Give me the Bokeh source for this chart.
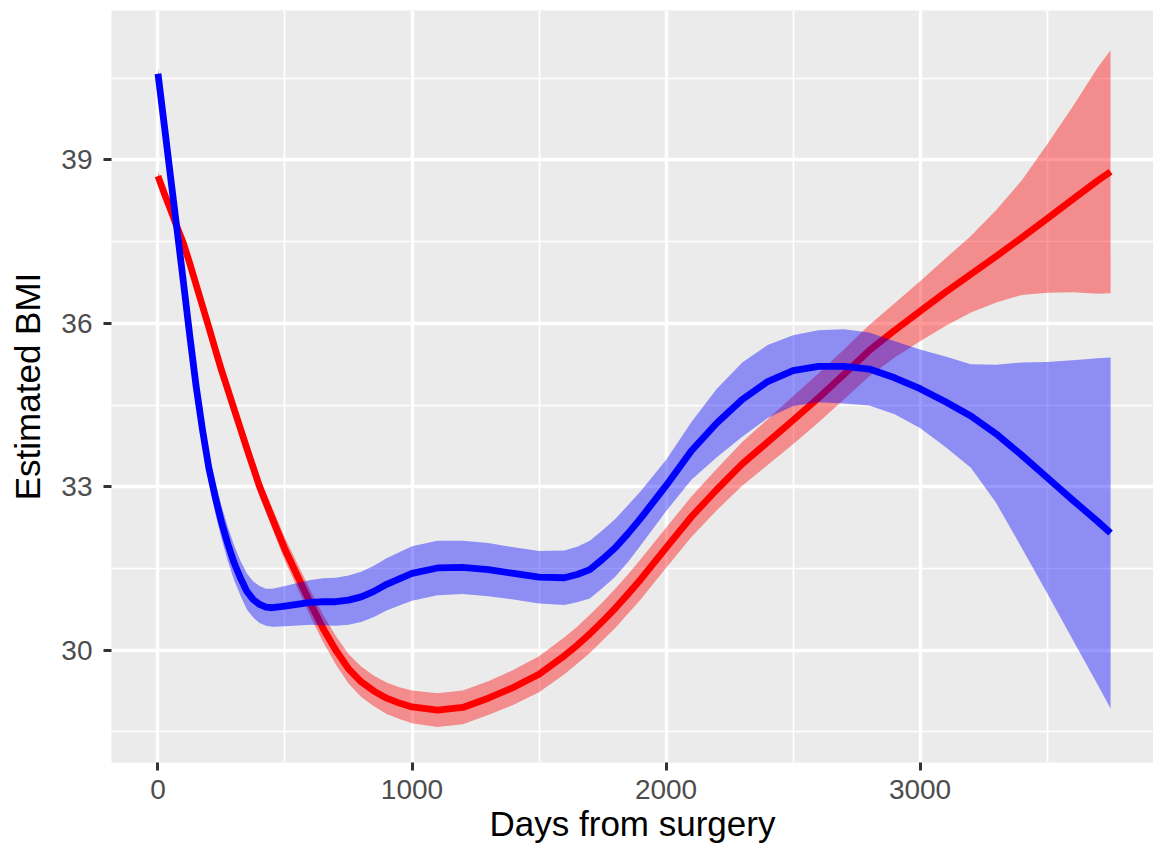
import numpy as np
from bokeh.plotting import figure
from bokeh.models import Range1d, FixedTicker, ColumnDataSource
from bokeh.embed import file_html
from bokeh.resources import INLINE

# Smoothed BMI trajectories after surgery (fit and standard error per group)
days = [0, 25, 50, 75, 100, 125, 150, 175, 200, 225, 250, 275, 300, 325, 350,
        375, 400, 425, 450, 500, 600, 650, 700, 750, 800, 850, 900, 950, 1000,
        1100, 1200, 1300, 1400, 1500, 1600, 1650, 1700, 1750, 1800, 1850, 1900,
        2000, 2100, 2200, 2300, 2400, 2500, 2600, 2700, 2800, 2900, 3000, 3100,
        3200, 3300, 3400, 3500, 3600, 3700, 3750]

red_fit = [38.70, 38.38, 38.08, 37.77, 37.47, 37.10, 36.71, 36.32, 35.93, 35.53,
           35.14, 34.78, 34.42, 34.06, 33.70, 33.35, 33.00, 32.71, 32.42, 31.85,
           30.86, 30.40, 30.00, 29.66, 29.42, 29.25, 29.12, 29.03, 28.96,
           28.90, 28.95, 29.12, 29.32, 29.56, 29.90, 30.09, 30.30, 30.53, 30.77,
           31.03, 31.30, 31.88, 32.45, 32.95, 33.42, 33.82, 34.22, 34.63, 35.06,
           35.50, 35.87, 36.22, 36.57, 36.90, 37.23, 37.57, 37.92, 38.27, 38.62,
           38.78]
red_se = [0.10, 0.10, 0.10, 0.10, 0.11, 0.11, 0.12, 0.12, 0.13, 0.13,
          0.14, 0.14, 0.15, 0.15, 0.16, 0.17, 0.18, 0.18, 0.19, 0.21,
          0.24, 0.25, 0.26, 0.27, 0.28, 0.28, 0.29, 0.29, 0.30,
          0.31, 0.31, 0.31, 0.32, 0.33, 0.34, 0.34, 0.35, 0.35, 0.36,
          0.36, 0.37, 0.37, 0.37, 0.38, 0.40, 0.42, 0.44, 0.45, 0.46,
          0.47, 0.50, 0.55, 0.62, 0.70, 0.85, 1.05, 1.36, 1.70, 2.08,
          2.23]

blue_fit = [40.58, 39.63, 38.67, 37.72, 36.76, 35.78, 34.85, 34.05, 33.35, 32.82,
            32.35, 31.95, 31.60, 31.32, 31.08, 30.93, 30.84, 30.79, 30.78, 30.81,
            30.88, 30.89, 30.89, 30.92, 30.98, 31.08, 31.21, 31.31, 31.41,
            31.51, 31.52, 31.48, 31.41, 31.34, 31.33, 31.39, 31.48, 31.67, 31.88,
            32.14, 32.42, 33.02, 33.66, 34.17, 34.60, 34.93, 35.13, 35.21, 35.21,
            35.16, 35.00, 34.80, 34.56, 34.30, 33.97, 33.58, 33.17, 32.76, 32.36,
            32.15]
blue_se = [0.12, 0.15, 0.18, 0.20, 0.22, 0.24, 0.26, 0.27, 0.28, 0.29,
           0.30, 0.31, 0.32, 0.32, 0.33, 0.33, 0.34, 0.34, 0.35, 0.37,
           0.41, 0.43, 0.44, 0.45, 0.46, 0.47, 0.48, 0.49, 0.50,
           0.50, 0.49, 0.49, 0.48, 0.48, 0.50, 0.51, 0.53, 0.53, 0.53,
           0.52, 0.50, 0.47, 0.53, 0.63, 0.68, 0.67, 0.65, 0.66, 0.68,
           0.67, 0.67, 0.72, 0.83, 0.95, 1.27, 1.70, 2.12, 2.56, 3.00,
           3.22]

x_ticks = [0, 1000, 2000, 3000]
x_minor = [500, 1500, 2500, 3500]
y_ticks = [30, 33, 36, 39]
y_minor = [28.5, 31.5, 34.5, 37.5, 40.5]

FONT = "Liberation Sans"

p = figure(width=1153, height=845, output_backend="svg", toolbar_location=None,
           x_range=Range1d(-183, 3919), y_range=Range1d(27.94, 41.74),
           min_border_left=111, min_border_right=0, min_border_top=10,
           min_border_bottom=83)
p.background_fill_color = "#EBEBEB"
p.border_fill_color = "white"
p.outline_line_color = None

p.xaxis.ticker = FixedTicker(ticks=x_ticks, minor_ticks=x_minor)
p.yaxis.ticker = FixedTicker(ticks=y_ticks, minor_ticks=y_minor)

for ax in (p.xaxis, p.yaxis):
    ax.axis_line_color = None
    ax.major_tick_line_color = "#333333"
    ax.major_tick_line_width = 3
    ax.major_tick_out = 8
    ax.major_tick_in = 0
    ax.minor_tick_out = 0
    ax.minor_tick_in = 0
    ax.major_label_text_font = FONT
    ax.major_label_text_font_size = "28px"
    ax.major_label_text_color = "#4D4D4D"
    ax.axis_label_text_font = FONT
    ax.axis_label_text_font_size = "35px"
    ax.axis_label_text_font_style = "normal"
    ax.axis_label_text_color = "black"

# short outward ticks on the x axis drawn without reserving extra border space
p.xaxis.major_tick_out = 0
p.xaxis.major_tick_in = -8
p.xaxis.major_label_standoff = 17
p.xaxis.axis_label = "Days from surgery"
p.xaxis.axis_label_standoff = 2

p.yaxis.axis_label = "Estimated BMI"
p.yaxis.major_label_standoff = 11
p.yaxis.axis_label_standoff = 11

for g in (p.xgrid, p.ygrid):
    g.grid_line_color = "white"
    g.grid_line_width = 3.4
    g.minor_grid_line_color = "white"
    g.minor_grid_line_width = 1.7

groups = [("red", red_fit, red_se), ("blue", blue_fit, blue_se)]
for color, fit, se in groups:
    fit_a = np.array(fit)
    se_a = np.array(se)
    src = ColumnDataSource(dict(x=days, fit=fit_a, lo=fit_a - se_a, hi=fit_a + se_a))
    p.varea(x="x", y1="lo", y2="hi", source=src, fill_color=color, fill_alpha=0.4)
    p.line(x="x", y="fit", source=src, line_color=color, line_width=6.8,
           line_join="round", line_cap="butt")

open("out.html", "w").write(file_html(p, INLINE))
